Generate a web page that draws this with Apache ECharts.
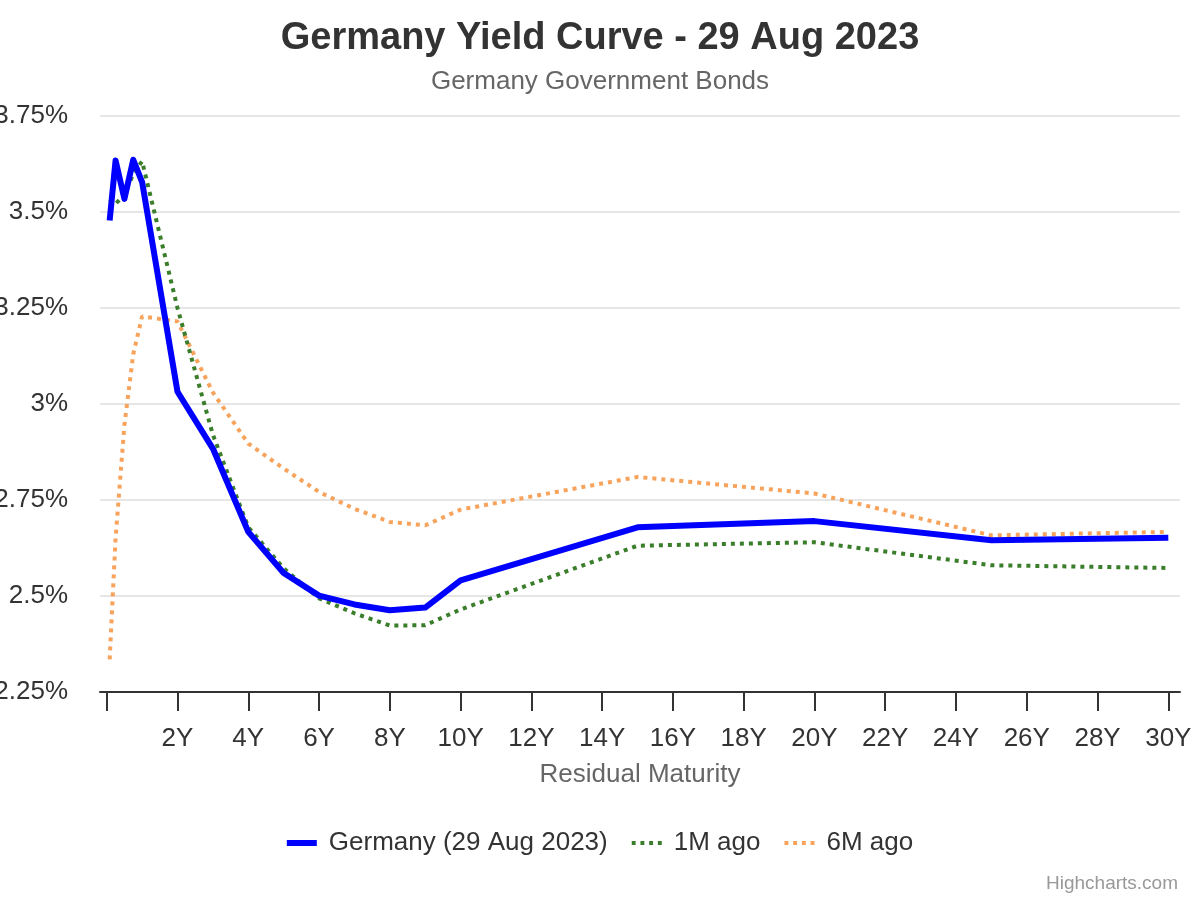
<!DOCTYPE html>
<html>
<head>
<meta charset="utf-8">
<script src="https://cdn.jsdelivr.net/npm/echarts@6/dist/echarts.min.js"></script>
<style>
  html, body { margin: 0; padding: 0; background: #fff; }
  #chart { width: 1200px; height: 900px; }
</style>
</head>
<body>
<div id="chart"></div>
<script>
// Maturities in years (1M, 3M, 6M, 9M, 1Y ... 30Y)
const maturities = [0.083, 0.25, 0.5, 0.75, 1, 2, 3, 4, 5, 6, 7, 8, 9, 10, 15, 20, 25, 30];
const germanyNow = [3.478, 3.634, 3.534, 3.636, 3.578, 3.032, 2.884, 2.667, 2.560, 2.501, 2.478, 2.463, 2.470, 2.541, 2.679, 2.695, 2.645, 2.652];
const oneMonthAgo = [3.534, 3.521, 3.546, 3.599, 3.632, 3.250, 2.920, 2.679, 2.572, 2.494, 2.455, 2.423, 2.424, 2.465, 2.631, 2.640, 2.580, 2.573];
const sixMonthsAgo = [2.335, 2.650, 2.945, 3.130, 3.228, 3.215, 3.030, 2.897, 2.832, 2.771, 2.727, 2.693, 2.684, 2.725, 2.810, 2.767, 2.658, 2.667];
const xTicks = [0, 2, 4, 6, 8, 10, 12, 14, 16, 18, 20, 22, 24, 26, 28, 30];
const xLabels = [2, 4, 6, 8, 10, 12, 14, 16, 18, 20, 22, 24, 26, 28, 30];
const seriesNames = ['Germany (29 Aug 2023)', '1M ago', '6M ago'];

const pair = (ys) => maturities.map((x, i) => [x, ys[i]]);
const FONT = '"Liberation Sans", Arial, Helvetica, sans-serif';
const DOTS = 'path://M0,0h4v4h-4zM9,0h4v4h-4zM18,0h4v4h-4zM27,0h4v4h-4z';

const chart = echarts.init(document.getElementById('chart'), null, { renderer: 'canvas' });
chart.setOption({
  backgroundColor: '#ffffff',
  animation: false,
  textStyle: { fontFamily: FONT },
  title: [
    { text: 'Germany Yield Curve - 29 Aug 2023', left: 'center', top: 15,
      textStyle: { fontFamily: FONT, fontSize: 38, fontWeight: 'bold', color: '#333333' } },
    { text: 'Germany Government Bonds', left: 'center', top: 64,
      textStyle: { fontFamily: FONT, fontSize: 26, fontWeight: 'normal', color: '#666666' } }
  ],
  legend: {
    top: 825, left: 'center',
    itemWidth: 30, itemHeight: 6, itemGap: 24,
    textStyle: { fontFamily: FONT, fontSize: 26, color: '#333333', padding: [0, 0, 0, 7] },
    data: [
      { name: seriesNames[0], icon: 'rect' },
      { name: seriesNames[1], icon: DOTS },
      { name: seriesNames[2], icon: DOTS }
    ]
  },
  grid: { left: 100, right: 20, top: 116, bottom: 208, containLabel: false, outerBoundsMode: 'none' },
  xAxis: {
    type: 'value', min: -0.19, max: 30.33,
    name: 'Residual Maturity', nameLocation: 'middle', nameGap: 70,
    nameTextStyle: { fontFamily: FONT, fontSize: 26, color: '#666666' },
    axisLine: { show: true, lineStyle: { color: '#333333', width: 2 } },
    axisTick: { show: true, length: 19, customValues: xTicks, lineStyle: { color: '#333333', width: 2 } },
    axisLabel: { customValues: xLabels, margin: 34, fontFamily: FONT, fontSize: 26, color: '#333333',
      formatter: (v) => v + 'Y' },
    splitLine: { show: false }
  },
  yAxis: {
    type: 'value', min: 2.25, max: 3.75, interval: 0.25,
    axisLine: { show: false }, axisTick: { show: false },
    axisLabel: { margin: 32, fontFamily: FONT, fontSize: 26, color: '#333333',
      formatter: (v) => parseFloat(v.toFixed(2)) + '%' },
    splitLine: { show: true, lineStyle: { color: '#e6e6e6', width: 2 } }
  },
  series: [
    { name: seriesNames[0], type: 'line', data: pair(germanyNow), showSymbol: false, symbol: 'none',
      color: '#0000ff', lineStyle: { color: '#0000ff', width: 6, join: 'round' }, z: 3 },
    { name: seriesNames[1], type: 'line', data: pair(oneMonthAgo), showSymbol: false, symbol: 'none',
      color: '#3a7d2a', lineStyle: { color: '#3a7d2a', width: 4, type: [4, 5] }, z: 2 },
    { name: seriesNames[2], type: 'line', data: pair(sixMonthsAgo), showSymbol: false, symbol: 'none',
      color: '#f7a35c', lineStyle: { color: '#f7a35c', width: 4, type: [4, 5] }, z: 1 }
  ],
  graphic: [
    { type: 'text', right: 22, top: 874,
      style: { text: 'Highcharts.com', font: '19px ' + FONT, fill: '#999999' } }
  ]
});
</script>
</body>
</html>
